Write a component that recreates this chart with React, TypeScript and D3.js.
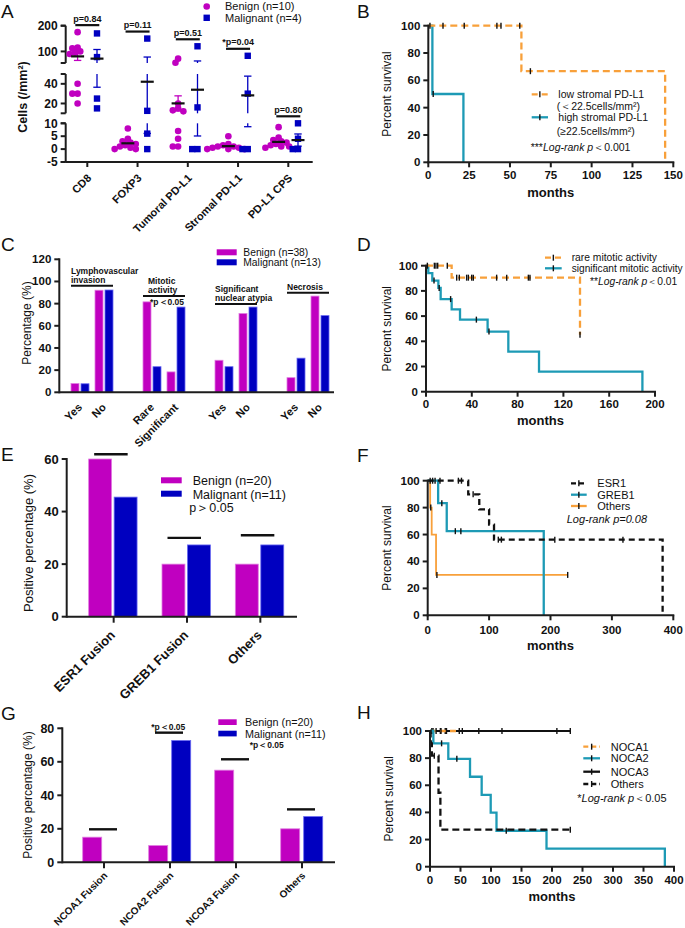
import React from 'react';
import * as d3 from 'd3';

const FONT = "'Liberation Sans', Arial, Helvetica, sans-serif";
const MAGENTA = '#c000c0';
const MAGENTA_EDGE = '#e07ce0';
const BLUE = '#0000c0';
const BLUE_EDGE = '#6a6af2';
const ORANGE = '#f8a03a';
const TEAL = '#1d9ab5';
const INK = '#1d1d1d';

// ===== Panel A data =====
const aCategories = ['CD8', 'FOXP3', 'Tumoral PD-L1', 'Stromal PD-L1', 'PD-L1 CPS'];
const aBenign = [
  [175, 115, 112, 100, 95, 90, 40, 30, 30, 20],
  [8, 4, 3, 2.5, 2, 1.5, 1, 0.5, 0, 0],
  [72, 56, 20, 15, 13, 12, 7, 4, 1, 1],
  [5, 2, 1.5, 1, 1, 0.5, 0.5, 0, 0, 0],
  [8.5, 4.5, 3.5, 3, 2.5, 2, 1.5, 1, 1, 0.5],
];
const aMalignant = [
  [170, 78, 25, 15],
  [150, 12.5, 6, 0],
  [120, 16, 0, 0],
  [83, 30, 0, 0],
  [10, 4, 0, 0],
];
const aPLabels = ['p=0.84', 'p=0.11', 'p=0.51', '*p=0.04', 'p=0.80'];
const aSegTicks = [[-5, 0, 5, 10], [20, 40], [100, 200]];
const aSegDomains = [[-5, 10], [10, 50], [55, 200]];

// ===== Panel B data =====
const bXTicks = [0, 25, 50, 75, 100, 125, 150];
const bLowTimes = [0, 57, 145];
const bLowSurv = [100, 66.7, 0];
const bLowCensor = [1, 9, 22, 42, 44.5, 56, 62.5];
const bHighTimes = [0, 2.5, 21.5];
const bHighSurv = [100, 50, 0];
const bHighCensor = [3];

// ===== Panel C data =====
const cSlots = ['Yes', 'No', '', 'Rare', 'Significant', '', 'Yes', 'No', '', 'Yes', 'No'];
const cBenign = [7.9, 92.1, null, 81.6, 18.4, null, 28.9, 71.1, null, 13.2, 86.8];
const cMalignant = [7.7, 92.3, null, 23.1, 76.9, null, 23.1, 76.9, null, 30.8, 69.2];
const cGroupTitles = [['Lymphovascular', 'invasion'], ['Mitotic', 'activity'], ['Significant', 'nuclear atypia'], ['Necrosis']];
const cGroupSlots = [[0, 1], [3, 4], [6, 7], [9, 10]];
const cGroupLevels = [96.2, 86.9, 79.7, 89.9];
const cYTicks = [0, 20, 40, 60, 80, 100, 120];

// ===== Panel D data =====
const dXTicks = [0, 40, 80, 120, 160, 200];
const dRareTimes = [0, 22.4, 134.5];
const dRareSurv = [100, 90.5, 45.2];
const dRareCensor = [1.2, 7.3, 8.7, 10.2, 18.6, 26.8, 29.1, 35.5, 37, 39.9, 41.3, 61.7, 70.5, 89.4, 90.8, 134.5];
const dSigTimes = [0, 2, 5.5, 10.8, 12.8, 22.4, 29.7, 53.8, 71.9, 98.7, 189];
const dSigSurv = [100, 94.1, 88.2, 82.4, 73.5, 65.4, 57.2, 47.7, 31.8, 15.9, 0];
const dSigCensor = [7, 11.5, 21.5, 44, 55];

// ===== Panel E data =====
const eCategories = ['ESR1 Fusion', 'GREB1 Fusion', 'Others'];
const eBenign = [60, 20, 20];
const eMalignant = [45.5, 27.3, 27.3];
const eBracketLevels = [61.8, 30, 31];
const eYTicks = [0, 20, 40, 60];

// ===== Panel F data =====
const fXTicks = [0, 100, 200, 300, 400];
const fEsrTimes = [0, 66, 84, 100, 108, 382.6];
const fEsrSurv = [100, 89.9, 78.7, 67.4, 56.2, 0];
const fEsrCensor = [4, 12, 20, 50, 55, 74, 115, 120, 207, 318];
const fGrebTimes = [0, 17, 31, 189];
const fGrebSurv = [100, 83.3, 62.5, 0];
const fGrebCensor = [8, 23, 45, 54];
const fOthTimes = [0, 4, 6.5, 13.6, 228];
const fOthSurv = [100, 80, 60, 30, 30];
const fOthCensor = [5, 15, 228];

// ===== Panel G data =====
const gCategories = ['NCOA1 Fusion', 'NCOA2 Fusion', 'NCOA3 Fusion', 'Others'];
const gBenign = [15, 10, 55, 20];
const gMalignant = [0, 72.7, 0, 27.3];
const gBracketLevels = [19.7, 77.4, 61.5, 31.6];
const gYTicks = [0, 20, 40, 60, 80];

// ===== Panel H data =====
const hXTicks = [0, 50, 100, 150, 200, 250, 300, 350, 400];
const hN1Times = [0, 48];
const hN1Surv = [100, 100];
const hN1Censor = [3, 10, 18, 27, 48];
const hN3Times = [0, 230];
const hN3Surv = [100, 100];
const hN3Censor = [5, 17, 25, 53, 80, 118, 208, 230];
const hN2Times = [0, 5.5, 30, 65.6, 84.7, 99.5, 109, 191, 385];
const hN2Surv = [100, 90.9, 79.5, 66.3, 53, 39.8, 26.5, 13.3, 0];
const hN2Censor = [19, 44, 125];
const hOthTimes = [0, 1, 3, 14, 17, 230];
const hOthSurv = [100, 90.9, 81.8, 54.5, 27.3, 27.3];
const hOthCensor = [2, 7, 230];

// ---------- helpers ----------
function stepValue(times: number[], surv: number[], t: number) {
  let v = surv[0];
  for (let i = 0; i < times.length; i++) if (times[i] <= t) v = surv[i];
  return v;
}

function PanelLetter({ x, y, children }: any) {
  return <text x={x} y={y} fontSize={19} fill="#111">{children}</text>;
}

type Curve = { times: number[]; surv: number[]; censor: number[]; color: string; dash?: string; width?: number };

function SurvivalPanel({ x0, x1, y0, y1, xMax, xTicks, curves, tickLabelY, monthsY, titleX }: any) {
  const x = d3.scaleLinear().domain([0, xMax]).range([x0, x1]);
  const y = d3.scaleLinear().domain([0, 100]).range([y0, y1]);
  const line = d3.line<[number, number]>().x(d => x(d[0])).y(d => y(d[1])).curve(d3.curveStepAfter);
  const yTicks = [0, 20, 40, 60, 80, 100];
  return (
    <g>
      {curves.map((c: Curve, i: number) => (
        <g key={i}>
          <path d={line(c.times.map((t, k) => [t, c.surv[k]]) as any) || ''} fill="none" stroke={c.color}
            strokeWidth={c.width || 2.3} strokeDasharray={c.dash} />
          {c.censor.map((t, k) => (
            <line key={k} x1={x(t)} x2={x(t)} y1={y(stepValue(c.times, c.surv, t)) - 3} y2={y(stepValue(c.times, c.surv, t)) + 3}
              stroke="#111" strokeWidth={1.4} />
          ))}
        </g>
      ))}
      <line x1={x0} x2={x0} y1={y0} y2={y1} stroke={INK} strokeWidth={2} strokeLinecap="square" />
      <line x1={x0} x2={x1} y1={y0} y2={y0} stroke={INK} strokeWidth={2} strokeLinecap="square" />
      {yTicks.map(t => (
        <g key={'y' + t}>
          <line x1={x0 - 5} x2={x0} y1={y(t)} y2={y(t)} stroke={INK} strokeWidth={2} />
          <text x={x0 - 8} y={y(t)} dy="0.35em" textAnchor="end" fontWeight="bold" fontSize={11.5}>{t}</text>
        </g>
      ))}
      {xTicks.map((t: number) => (
        <g key={'x' + t}>
          <line x1={x(t)} x2={x(t)} y1={y0} y2={y0 + 5} stroke={INK} strokeWidth={2} />
          <text x={x(t)} y={tickLabelY} dy="0.35em" textAnchor="middle" fontWeight="bold" fontSize={11.5}>{t}</text>
        </g>
      ))}
      <text x={(x0 + x1) / 2} y={monthsY} dy="0.35em" textAnchor="middle" fontWeight="bold" fontSize={13}>months</text>
      <text transform={`translate(${titleX},${(y0 + y1) / 2}) rotate(-90)`} dy="0.35em" textAnchor="middle" fontSize={12}>Percent survival</text>
    </g>
  );
}

function LegendLine({ x1, x2, y, color, dash }: any) {
  return (
    <g>
      <line x1={x1} x2={x2} y1={y} y2={y} stroke={color} strokeWidth={2.3} strokeDasharray={dash} />
      <line x1={(x1 + x2) / 2} x2={(x1 + x2) / 2} y1={y - 3} y2={y + 3} stroke="#111" strokeWidth={1.4} />
    </g>
  );
}

// ---------- Panel A ----------
function swarm(values: number[], cx: number, yf: (v: number) => number, r: number) {
  const pts = values.map(v => ({ v, y: yf(v) })).sort((a, b) => a.y - b.y);
  const placed: { x: number; y: number }[] = [];
  for (const p of pts) {
    let xo = 0;
    for (let i = 0; i < 40; i++) {
      const off = i === 0 ? 0 : (i % 2 === 1 ? -1 : 1) * Math.ceil(i / 2) * r * 0.8;
      const ok = placed.every(q => Math.hypot(q.x - (cx + off), q.y - p.y) >= r * 1.4);
      if (ok) { xo = off; break; }
    }
    placed.push({ x: cx + xo, y: p.y });
  }
  return placed;
}

function PanelA() {
  const axisX = 65.7;
  const axisY = 162;
  const segRanges = [[162, 123.3], [113.3, 74], [63, 25.7]];
  const segs = aSegDomains.map((d, i) => d3.scaleLinear().domain(d).range(segRanges[i]));
  const yA = (v: number) => {
    if (v <= 10) return segs[0](v);
    if (v <= 52.5) return segs[1](Math.min(v, 50));
    return segs[2](Math.max(v, 55));
  };
  const x = d3.scalePoint<string>().domain(aCategories).range([87.3, 288.3]);
  const off = 9.7;
  const r = 3.3;
  const errorBar = (vals: number[], cx: number, color: string) => {
    const m = d3.mean(vals) as number;
    const se = (d3.deviation(vals) as number) / Math.sqrt(vals.length);
    const lo = m - se, hi = m + se;
    const parts: any[] = [];
    aSegDomains.forEach((d, i) => {
      const a = Math.max(lo, d[0]), b = Math.min(hi, d[1]);
      if (a < b) parts.push(<line key={'s' + i} x1={cx} x2={cx} y1={segs[i](a)} y2={segs[i](b)} stroke={color} strokeWidth={1.3} />);
    });
    return (
      <g>
        {parts}
        <line x1={cx - 3.7} x2={cx + 3.7} y1={yA(lo)} y2={yA(lo)} stroke={color} strokeWidth={1.3} />
        <line x1={cx - 3.7} x2={cx + 3.7} y1={yA(hi)} y2={yA(hi)} stroke={color} strokeWidth={1.3} />
        <line x1={cx - 6.5} x2={cx + 6.5} y1={yA(m)} y2={yA(m)} stroke="#111" strokeWidth={2.2} />
      </g>
    );
  };
  return (
    <g>
      <PanelLetter x={1} y={17.5}>A</PanelLetter>
      <circle cx={206.7} cy={6.5} r={r} fill={MAGENTA} />
      <text x={225} y={6.5} dy="0.35em" fontSize={11}>Benign (n=10)</text>
      <rect x={206.7 - 3.2} y={17.8 - 3.2} width={6.4} height={6.4} fill={BLUE} />
      <text x={225} y={17.8} dy="0.35em" fontSize={11}>Malignant (n=4)</text>
      {segs.map((s, i) => (
        <g key={i}>
          <line x1={axisX} x2={axisX} y1={segRanges[i][0]} y2={segRanges[i][1]} stroke={INK} strokeWidth={2} />
          {[aSegDomains[i][0], aSegDomains[i][1]].map(t => (
            <line key={'e' + t} x1={axisX - 5} x2={axisX} y1={s(t)} y2={s(t)} stroke={INK} strokeWidth={2} />
          ))}
          {aSegTicks[i].map(t => (
            <g key={t}>
              <line x1={axisX - 5} x2={axisX} y1={s(t)} y2={s(t)} stroke={INK} strokeWidth={2} />
              <text x={axisX - 8} y={s(t)} dy="0.35em" textAnchor="end" fontWeight="bold" fontSize={12}>{t}</text>
            </g>
          ))}
        </g>
      ))}
      <line x1={axisX} x2={312.7} y1={axisY} y2={axisY} stroke={INK} strokeWidth={2} />
      {aCategories.map(c => (
        <g key={c}>
          <line x1={x(c)} x2={x(c)} y1={axisY} y2={axisY + 5} stroke={INK} strokeWidth={2} />
          <text transform={`translate(${(x(c) as number) + 2},${axisY + 14}) rotate(-45)`} dy="0.35em" textAnchor="end"
            fontWeight="bold" fontSize={11}>{c}</text>
        </g>
      ))}
      <text transform={`translate(23,97) rotate(-90)`} dy="0.35em" textAnchor="middle" fontWeight="bold" fontSize={12.5}>Cells (/mm²)</text>
      {aCategories.map((c, i) => {
        const cx = x(c) as number;
        const bp = swarm(aBenign[i], cx - off, yA, r);
        const mp = swarm(aMalignant[i], cx + off, yA, r);
        const top = yA(Math.max(...aBenign[i], ...aMalignant[i])) - 7;
        return (
          <g key={c}>
            {bp.map((p, k) => <circle key={'b' + k} cx={p.x} cy={p.y} r={r} fill={MAGENTA} />)}
            {mp.map((p, k) => <rect key={'m' + k} x={p.x - 3.2} y={p.y - 3.2} width={6.4} height={6.4} fill={BLUE} />)}
            {errorBar(aBenign[i], cx - off, MAGENTA)}
            {errorBar(aMalignant[i], cx + off, BLUE)}
            <line x1={cx - 12} x2={cx + 12} y1={top} y2={top} stroke="#111" strokeWidth={2.2} />
            <text x={cx} y={top - 3.5} textAnchor="middle" fontWeight="bold" fontSize={9}>{aPLabels[i]}</text>
          </g>
        );
      })}
    </g>
  );
}

// ---------- Panel B ----------
function PanelB() {
  const curves: Curve[] = [
    { times: bHighTimes, surv: bHighSurv, censor: bHighCensor, color: TEAL },
    { times: bLowTimes, surv: bLowSurv, censor: bLowCensor, color: ORANGE, dash: '7,4' },
  ];
  return (
    <g>
      <PanelLetter x={357} y={17.5}>B</PanelLetter>
      <SurvivalPanel x0={428.3} x1={673.3} y0={162.3} y1={25.7} xMax={150} xTicks={bXTicks} curves={curves}
        tickLabelY={175} monthsY={192.7} titleX={386.7} />
      <LegendLine x1={531.7} x2={548} y={94.3} color={ORANGE} dash="6,4" />
      <LegendLine x1={531.7} x2={548} y={117.3} color={TEAL} />
      <g fontSize={10.5}>
        <text x={558.3} y={94.3} dy="0.35em">low stromal PD-L1</text>
        <text x={556.7} y={106.7} dy="0.35em">(＜22.5cells/mm²)</text>
        <text x={558.3} y={117.3} dy="0.35em">high stromal PD-L1</text>
        <text x={556.7} y={131.7} dy="0.35em">(≥22.5cells/mm²)</text>
        <text x={530.7} y={147.3} dy="0.35em">***<tspan fontStyle="italic">Log-rank p</tspan>＜0.001</text>
      </g>
    </g>
  );
}

// ---------- Panel C ----------
function PanelC() {
  const axisX = 59.3, y0 = 392.3;
  const y = d3.scaleLinear().domain([0, 120]).range([y0, 259.3]);
  const band = d3.scaleBand<number>().domain(d3.range(cSlots.length)).range([68, 332]);
  const bw = 8;
  return (
    <g>
      <PanelLetter x={1} y={251}>C</PanelLetter>
      {cSlots.map((s, i) => {
        const cx = (band(i) as number) + band.bandwidth() / 2;
        const b = cBenign[i], m = cMalignant[i];
        return (
          <g key={i}>
            {b != null && <rect x={cx - 1 - bw} y={y(b)} width={bw} height={y0 - y(b)} fill={MAGENTA} stroke={MAGENTA_EDGE} strokeWidth={0.8} />}
            {m != null && <rect x={cx + 1} y={y(m)} width={bw} height={y0 - y(m)} fill={BLUE} stroke={BLUE_EDGE} strokeWidth={0.8} />}
            {s && <text transform={`translate(${cx},${y0 + 13}) rotate(-45)`} dy="0.35em" textAnchor="end" fontWeight="bold" fontSize={11}>{s}</text>}
          </g>
        );
      })}
      {cGroupSlots.map((g, i) => {
        const xa = (band(g[0]) as number) + 3;
        const xb = (band(g[1]) as number) + band.bandwidth() - 3;
        const ly = y(cGroupLevels[i]);
        const lines = cGroupTitles[i];
        return (
          <g key={i}>
            <line x1={xa} x2={xb} y1={ly} y2={ly} stroke="#111" strokeWidth={2} />
            {lines.map((t, k) => (
              <text key={k} x={xa + (i === 1 ? 5 : 0)} y={ly - 3 - (lines.length - 1 - k) * 9} fontWeight="bold" fontSize={8.5}>{t}</text>
            ))}
          </g>
        );
      })}
      <text x={150} y={305} fontWeight="bold" fontSize={8.5}>*p＜0.05</text>
      <line x1={axisX} x2={axisX} y1={y0} y2={y(120)} stroke={INK} strokeWidth={2} strokeLinecap="square" />
      <line x1={axisX} x2={334} y1={y0} y2={y0} stroke={INK} strokeWidth={2} />
      {cYTicks.map(t => (
        <g key={t}>
          <line x1={axisX - 5} x2={axisX} y1={y(t)} y2={y(t)} stroke={INK} strokeWidth={2} />
          <text x={axisX - 8} y={y(t)} dy="0.35em" textAnchor="end" fontWeight="bold" fontSize={11.5}>{t}</text>
        </g>
      ))}
      <text transform={`translate(26.7,323) rotate(-90)`} dy="0.35em" textAnchor="middle" fontSize={12}>Percentage (%)</text>
      <rect x={216.7} y={249.3} width={20} height={6} fill={MAGENTA} />
      <rect x={216.7} y={259.3} width={20} height={6} fill={BLUE} />
      <text x={243.3} y={252.3} dy="0.35em" fontSize={10.3}>Benign (n=38)</text>
      <text x={243.3} y={262.3} dy="0.35em" fontSize={10.3}>Malignant (n=13)</text>
    </g>
  );
}

// ---------- Panel D ----------
function PanelD() {
  const curves: Curve[] = [
    { times: dSigTimes, surv: dSigSurv, censor: dSigCensor, color: TEAL },
    { times: dRareTimes, surv: dRareSurv, censor: dRareCensor, color: ORANGE, dash: '7,4' },
  ];
  return (
    <g>
      <PanelLetter x={357} y={251}>D</PanelLetter>
      <SurvivalPanel x0={426} x1={655} y0={391.7} y1={265.7} xMax={200} xTicks={dXTicks} curves={curves}
        tickLabelY={404} monthsY={420} titleX={386.7} />
      <LegendLine x1={545} x2={561.7} y={257.7} color={ORANGE} dash="6,4" />
      <LegendLine x1={545} x2={561.7} y={268.3} color={TEAL} />
      <g fontSize={10.3}>
        <text x={571.7} y={257.7} dy="0.35em">rare mitotic activity</text>
        <text x={571.7} y={268.3} dy="0.35em" textLength={111} lengthAdjust="spacingAndGlyphs">significant mitotic activity</text>
        <text x={590} y={281} dy="0.35em">**<tspan fontStyle="italic">Log-rank p</tspan>＜0.01</text>
      </g>
    </g>
  );
}

// ---------- Panel E ----------
function PanelE() {
  const axisX = 66.7, y0 = 616.7;
  const y = d3.scaleLinear().domain([0, 60]).range([y0, 459]);
  const band = d3.scaleBand<string>().domain(eCategories).range([77, 297]);
  const inner = d3.scaleBand<string>().domain(['b', 'm']).range([0, 48.4]).paddingInner(0.1);
  return (
    <g>
      <PanelLetter x={1} y={461}>E</PanelLetter>
      {eCategories.map((c, i) => {
        const cx = (band(c) as number) + band.bandwidth() / 2;
        const gx = cx - 25;
        const ly = y(eBracketLevels[i]);
        return (
          <g key={c}>
            <rect x={gx + (inner('b') as number)} y={y(eBenign[i])} width={inner.bandwidth()} height={y0 - y(eBenign[i])} fill={MAGENTA} stroke={MAGENTA_EDGE} strokeWidth={0.8} />
            <rect x={gx + (inner('m') as number)} y={y(eMalignant[i])} width={inner.bandwidth()} height={y0 - y(eMalignant[i])} fill={BLUE} stroke={BLUE_EDGE} strokeWidth={0.8} />
            <line x1={cx - 19.5} x2={cx + 14} y1={ly} y2={ly} stroke="#111" strokeWidth={2.4} />
            <line x1={cx} x2={cx} y1={y0} y2={y0 + 6} stroke={INK} strokeWidth={2} />
            <text transform={`translate(${cx - 1},${y0 + 16}) rotate(-45)`} dy="0.35em" textAnchor="end" fontWeight="bold" fontSize={13}>{c}</text>
          </g>
        );
      })}
      <line x1={axisX} x2={axisX} y1={y0} y2={y(60)} stroke={INK} strokeWidth={2} strokeLinecap="square" />
      <line x1={axisX} x2={297} y1={y0} y2={y0} stroke={INK} strokeWidth={2} />
      {eYTicks.map(t => (
        <g key={t}>
          <line x1={axisX - 5} x2={axisX} y1={y(t)} y2={y(t)} stroke={INK} strokeWidth={2} />
          <text x={axisX - 8} y={y(t)} dy="0.35em" textAnchor="end" fontWeight="bold" fontSize={13}>{t}</text>
        </g>
      ))}
      <text transform={`translate(28,543) rotate(-90)`} dy="0.35em" textAnchor="middle" fontSize={13}>Positive percentage (%)</text>
      <rect x={161} y={477.3} width={20.7} height={6} fill={MAGENTA} />
      <rect x={161} y={490.7} width={20.7} height={6} fill={BLUE} />
      <text x={192.7} y={481} dy="0.35em" fontSize={12.5}>Benign (n=20)</text>
      <text x={192.7} y={494.3} dy="0.35em" fontSize={12.5}>Malignant (n=11)</text>
      <text x={189.3} y={508} dy="0.35em" fontSize={12.5}>p＞0.05</text>
    </g>
  );
}

// ---------- Panel F ----------
function PanelF() {
  const curves: Curve[] = [
    { times: fOthTimes, surv: fOthSurv, censor: fOthCensor, color: ORANGE, width: 1.8 },
    { times: fGrebTimes, surv: fGrebSurv, censor: fGrebCensor, color: TEAL },
    { times: fEsrTimes, surv: fEsrSurv, censor: fEsrCensor, color: '#111', dash: '6,4' },
  ];
  return (
    <g>
      <PanelLetter x={357} y={462}>F</PanelLetter>
      <SurvivalPanel x0={427.7} x1={673.3} y0={615.3} y1={480.7} xMax={400} xTicks={fXTicks} curves={curves}
        tickLabelY={630} monthsY={645} titleX={386.7} />
      <LegendLine x1={571} x2={586.7} y={483.3} color="#111" dash="5,3" />
      <LegendLine x1={571} x2={586.7} y={494.7} color={TEAL} />
      <LegendLine x1={571} x2={586.7} y={506} color={ORANGE} />
      <g fontSize={11}>
        <text x={597.3} y={483.3} dy="0.35em">ESR1</text>
        <text x={597.3} y={494.7} dy="0.35em">GREB1</text>
        <text x={597.3} y={506} dy="0.35em">Others</text>
        <text x={566.7} y={519.3} dy="0.35em" fontStyle="italic">Log-rank p=0.08</text>
      </g>
    </g>
  );
}

// ---------- Panel G ----------
function PanelG() {
  const axisX = 62.3, y0 = 862.3;
  const y = d3.scaleLinear().domain([0, 80]).range([y0, 728.3]);
  const band = d3.scaleBand<string>().domain(gCategories).range([71, 335]);
  return (
    <g>
      <PanelLetter x={1} y={720}>G</PanelLetter>
      {gCategories.map((c, i) => {
        const cx = (band(c) as number) + band.bandwidth() / 2;
        const ly = y(gBracketLevels[i]);
        return (
          <g key={c}>
            {gBenign[i] > 0 && <rect x={cx - 21.3} y={y(gBenign[i])} width={19} height={y0 - y(gBenign[i])} fill={MAGENTA} stroke={MAGENTA_EDGE} strokeWidth={0.8} />}
            {gMalignant[i] > 0 && <rect x={cx + 1.7} y={y(gMalignant[i])} width={19} height={y0 - y(gMalignant[i])} fill={BLUE} stroke={BLUE_EDGE} strokeWidth={0.8} />}
            <line x1={cx - 15} x2={cx + 13} y1={ly} y2={ly} stroke="#111" strokeWidth={2.4} />
            <line x1={cx} x2={cx} y1={y0} y2={y0 + 6} stroke={INK} strokeWidth={2} />
            <text transform={`translate(${cx + 1.5},${y0 + 11.5}) rotate(-45)`} dy="0.35em" textAnchor="end" fontWeight="bold" fontSize={10}>{c}</text>
          </g>
        );
      })}
      <text x={168.3} y={729.5} textAnchor="middle" fontWeight="bold" fontSize={8.5}>*p＜0.05</text>
      <text x={266.7} y={748} textAnchor="middle" fontWeight="bold" fontSize={8.5}>*p＜0.05</text>
      <line x1={axisX} x2={axisX} y1={y0} y2={y(80)} stroke={INK} strokeWidth={2} strokeLinecap="square" />
      <line x1={axisX} x2={335} y1={y0} y2={y0} stroke={INK} strokeWidth={2} />
      {gYTicks.map(t => (
        <g key={t}>
          <line x1={axisX - 5} x2={axisX} y1={y(t)} y2={y(t)} stroke={INK} strokeWidth={2} />
          <text x={axisX - 8} y={y(t)} dy="0.35em" textAnchor="end" fontWeight="bold" fontSize={12.5}>{t}</text>
        </g>
      ))}
      <text transform={`translate(28,795) rotate(-90)`} dy="0.35em" textAnchor="middle" fontSize={12}>Positive percentage (%)</text>
      <rect x={218.3} y={719.3} width={18.4} height={5.7} fill={MAGENTA} />
      <rect x={218.3} y={730.7} width={18.4} height={5.7} fill={BLUE} />
      <text x={245} y={722.3} dy="0.35em" fontSize={10.8}>Benign (n=20)</text>
      <text x={245} y={734} dy="0.35em" fontSize={10.8}>Malignant (n=11)</text>
    </g>
  );
}

// ---------- Panel H ----------
function PanelH() {
  const curves: Curve[] = [
    { times: hN3Times, surv: hN3Surv, censor: hN3Censor, color: '#111', width: 1.8 },
    { times: hN1Times, surv: hN1Surv, censor: hN1Censor, color: ORANGE, dash: '6,4' },
    { times: hN2Times, surv: hN2Surv, censor: hN2Censor, color: TEAL },
    { times: hOthTimes, surv: hOthSurv, censor: hOthCensor, color: '#111', dash: '7,4' },
  ];
  return (
    <g>
      <PanelLetter x={357} y={719}>H</PanelLetter>
      <SurvivalPanel x0={430} x1={674} y0={866.7} y1={731} xMax={400} xTicks={hXTicks} curves={curves}
        tickLabelY={880} monthsY={896.7} titleX={388.3} />
      <LegendLine x1={583.3} x2={600} y={746.7} color={ORANGE} dash="5,3" />
      <LegendLine x1={583.3} x2={600} y={758.3} color={TEAL} />
      <LegendLine x1={583.3} x2={600} y={771.7} color="#111" />
      <LegendLine x1={583.3} x2={600} y={784} color="#111" dash="5,3" />
      <g fontSize={11}>
        <text x={610.7} y={746.7} dy="0.35em">NOCA1</text>
        <text x={610.7} y={758.3} dy="0.35em">NOCA2</text>
        <text x={610.7} y={771.7} dy="0.35em">NOCA3</text>
        <text x={610.7} y={784} dy="0.35em">Others</text>
        <text x={577.3} y={798.3} dy="0.35em">*<tspan fontStyle="italic">Log-rank p</tspan>＜0.05</text>
      </g>
    </g>
  );
}

export default function App() {
  return (
    <svg width={685} height={928} viewBox="0 0 685 928"
      style={{ position: 'absolute', left: 0, top: 0, background: '#fff' }}
      fontFamily={FONT} fill="#111">
      <rect x={0} y={0} width={685} height={928} fill="#fff" />
      <PanelA />
      <PanelB />
      <PanelC />
      <PanelD />
      <PanelE />
      <PanelF />
      <PanelG />
      <PanelH />
    </svg>
  );
}
